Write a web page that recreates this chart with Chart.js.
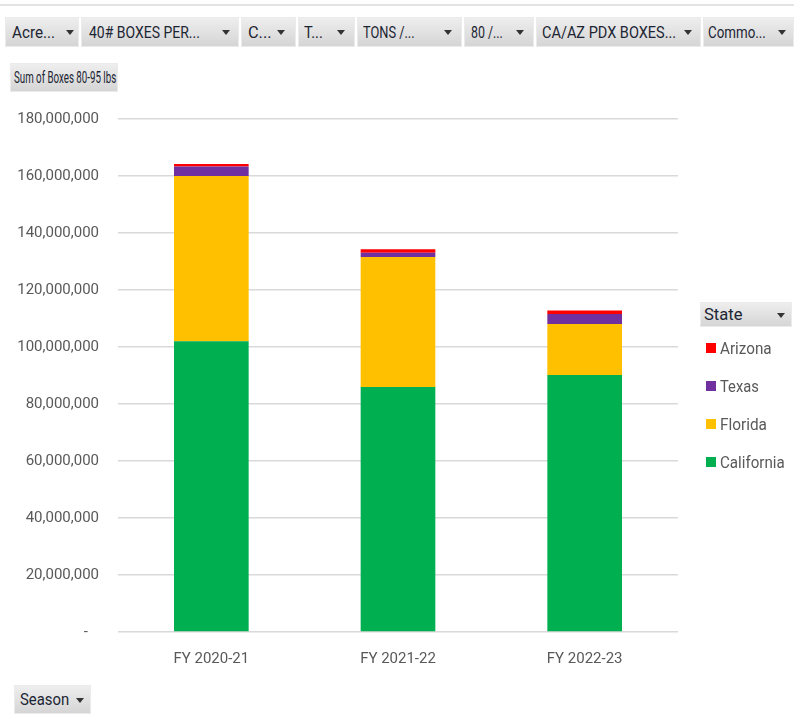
<!DOCTYPE html>
<html>
<head>
<meta charset="utf-8">
<script src="https://cdn.jsdelivr.net/npm/chart.js@4"></script>
<style>
  body { margin: 0; background: #fff; font-family: Roboto, "Liberation Sans", sans-serif; }
  #wrap { position: relative; width: 794px; height: 728px; overflow: hidden; }
  #chartCanvas { position: absolute; left: 0; top: 0; }
  .topline { position: absolute; left: 0; top: 4px; width: 794px; height: 2px; background: #e3e3e3; }
  .btn {
    position: absolute; height: 30px; box-sizing: border-box; overflow: hidden;
    background: linear-gradient(#eeeeee, #d5d5d5);
    border: 1px solid #ebebeb; color: #1c2533;
  }
  .t {
    position: absolute; top: 0; display: inline-block; white-space: nowrap;
    font-size: 17px; transform-origin: left center;
  }
  .arr {
    position: absolute; width: 0; height: 0;
    border-left: 4px solid transparent; border-right: 4px solid transparent;
    border-top: 5px solid #333;
  }
  #legend { position: absolute; left: 706px; top: 338px; }
  .item { position: relative; height: 38px; color: #595959; }
  .item .t { left: 14px; top: 0; font-size: 17px; line-height: 20px; }
  .box { position: absolute; left: 0; top: 5px; width: 10px; height: 10px; }
</style>
</head>
<body>
<div id="wrap">
  <div class="topline"></div>
  <div class="btn" style="left:5px;top:17px;width:74px"><span class="t" style="left:6px;line-height:28px" data-w="43">Acre...</span><span class="arr" style="left:60px;top:12px"></span></div>
  <div class="btn" style="left:81px;top:17px;width:158px"><span class="t" style="left:7px;line-height:28px" data-w="111">40# BOXES PER...</span><span class="arr" style="left:140px;top:12px"></span></div>
  <div class="btn" style="left:241px;top:17px;width:55px"><span class="t" style="left:6px;line-height:28px" data-w="24">C...</span><span class="arr" style="left:35px;top:12px"></span></div>
  <div class="btn" style="left:298px;top:17px;width:57px"><span class="t" style="left:5px;line-height:28px" data-w="19">T...</span><span class="arr" style="left:38px;top:12px"></span></div>
  <div class="btn" style="left:357px;top:17px;width:105px"><span class="t" style="left:5px;line-height:28px" data-w="52">TONS /...</span><span class="arr" style="left:86px;top:12px"></span></div>
  <div class="btn" style="left:464px;top:17px;width:70px"><span class="t" style="left:6px;line-height:28px" data-w="32">80 /...</span><span class="arr" style="left:51px;top:12px"></span></div>
  <div class="btn" style="left:536px;top:17px;width:165px"><span class="t" style="left:5px;line-height:28px" data-w="134">CA/AZ PDX BOXES...</span><span class="arr" style="left:147px;top:12px"></span></div>
  <div class="btn" style="left:703px;top:17px;width:91px"><span class="t" style="left:4px;line-height:28px" data-w="58">Commo...</span><span class="arr" style="left:74px;top:12px"></span></div>
  <div class="btn" style="left:10px;top:63px;width:108px;height:29px"><span class="t" style="left:3px;line-height:27px" data-w="102">Sum of Boxes 80-95 lbs</span></div>
  <div class="btn" style="left:700px;top:302px;width:92px;height:25px"><span class="t" style="left:3px;line-height:23px" data-w="38">State</span><span class="arr" style="left:76px;top:10px"></span></div>
  <div class="btn" style="left:14px;top:685px;width:77px;height:29px"><span class="t" style="left:5px;line-height:27px" data-w="49">Season</span><span class="arr" style="left:61px;top:12px"></span></div>
  <canvas id="chartCanvas" width="794" height="728"></canvas>
  <div id="legend"></div>
</div>
<script>
const seasons = ["FY 2020-21", "FY 2021-22", "FY 2022-23"];
const california = [102000000, 86000000, 90200000];
const florida = [58000000, 45600000, 17900000];
const texas = [3300000, 1500000, 3500000];
const arizona = [900000, 1200000, 1200000];
const yTicks = [0, 20000000, 40000000, 60000000, 80000000, 100000000, 120000000, 140000000, 160000000, 180000000];

const fontFamily = 'Roboto, "Liberation Sans", sans-serif';
// rough text widths seen in the Excel legend (narrow Calibri)
const legendWidths = { Arizona: 52, Texas: 39, Florida: 47, California: 65 };

// squeeze html text into the narrow widths of the original
function fitText(root) {
  root.querySelectorAll(".t[data-w]").forEach((el) => {
    const w = el.offsetWidth;
    if (w > 0) el.style.transform = "scaleX(" + (+el.dataset.w / w) + ")";
  });
}

// html legend, built from the chart's own legend items (reversed like Excel)
const htmlLegend = {
  id: "htmlLegend",
  afterUpdate(chart) {
    const el = document.getElementById("legend");
    el.innerHTML = "";
    const items = chart.options.plugins.legend.labels.generateLabels(chart).reverse();
    items.forEach((item) => {
      const row = document.createElement("div");
      row.className = "item";
      const box = document.createElement("span");
      box.className = "box";
      box.style.background = item.fillStyle;
      const txt = document.createElement("span");
      txt.className = "t";
      txt.textContent = item.text;
      txt.dataset.w = legendWidths[item.text] || 50;
      row.appendChild(box);
      row.appendChild(txt);
      el.appendChild(row);
    });
    fitText(el);
  },
};

const ds = (label, data, color) => ({
  label: label,
  data: data,
  backgroundColor: color,
  borderWidth: 0,
  barPercentage: 0.4,
  categoryPercentage: 1,
});

new Chart(document.getElementById("chartCanvas"), {
  type: "bar",
  data: {
    labels: seasons,
    datasets: [
      ds("California", california, "#00b050"),
      ds("Florida", florida, "#ffc000"),
      ds("Texas", texas, "#7030a0"),
      ds("Arizona", arizona, "#ff0000"),
    ],
  },
  options: {
    responsive: false,
    animation: false,
    devicePixelRatio: 1,
    layout: { padding: { left: 0, right: 116, top: 119, bottom: 0 } },
    plugins: {
      legend: { display: false },
      tooltip: { enabled: false },
    },
    scales: {
      x: {
        stacked: true,
        grid: { display: false, drawTicks: false },
        border: { display: false },
        afterFit: (scale) => { scale.height = 96; },
        ticks: { color: "#595959", font: { family: fontFamily, size: 15 }, padding: 18 },
      },
      y: {
        stacked: true,
        min: 0,
        max: 180000000,
        afterFit: (scale) => { scale.width = 118; },
        afterBuildTicks: (scale) => { scale.ticks = yTicks.map((v) => ({ value: v })); },
        grid: { color: "#d9d9d9", lineWidth: 1.5, drawTicks: false },
        border: { display: false },
        ticks: {
          color: "#595959",
          font: { family: fontFamily, size: 15 },
          padding: 19,
          callback: (v) => (v === 0 ? "-   " : v.toLocaleString("en-US")),
        },
      },
    },
  },
  plugins: [htmlLegend],
});

fitText(document.getElementById("wrap"));
</script>
</body>
</html>
